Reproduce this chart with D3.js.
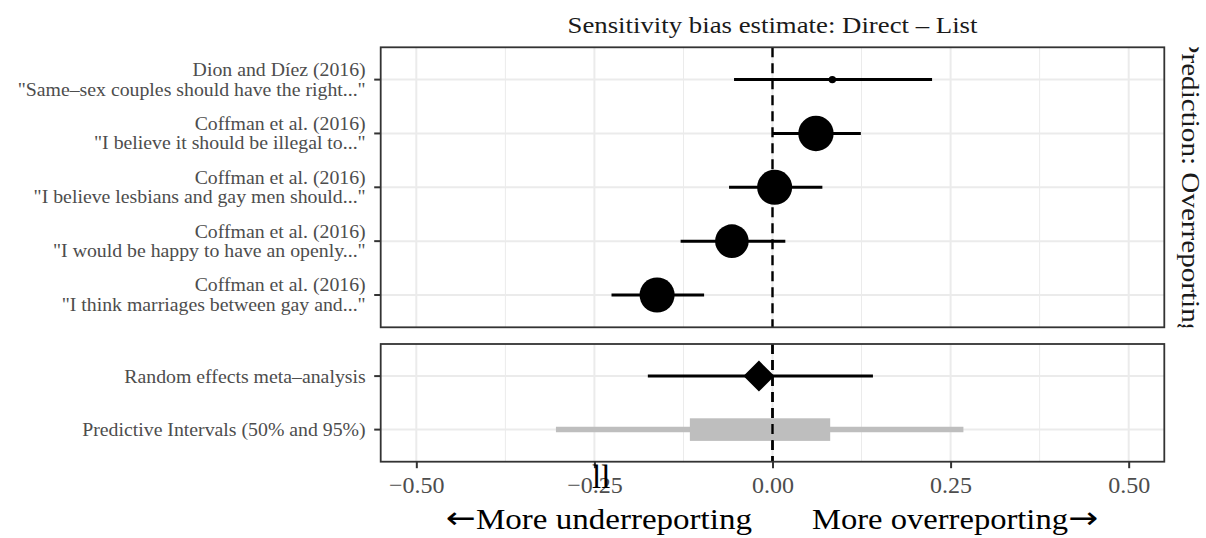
<!DOCTYPE html>
<html>
<head>
<meta charset="utf-8">
<script src="https://cdn.jsdelivr.net/npm/d3@7"></script>
<style>
  body { margin: 0; background: #fff; }
  svg { display: block; }
</style>
</head>
<body>
<div id="chart"></div>
<script>
// values
var studies = ["Dion and Díez (2016)", "Coffman et al. (2016)", "Coffman et al. (2016)",
               "Coffman et al. (2016)", "Coffman et al. (2016)"];
var items = ["\"Same–sex couples should have the right...\"",
             "\"I believe it should be illegal to...\"",
             "\"I believe lesbians and gay men should...\"",
             "\"I would be happy to have an openly...\"",
             "\"I think marriages between gay and...\""];
var estimates = [0.084, 0.061, 0.003, -0.057, -0.162];
var ciLow     = [-0.054, 0.000, -0.061, -0.129, -0.226];
var ciHigh    = [0.224, 0.124, 0.070, 0.018, -0.096];
var weights   = [0.044, 1.0, 0.98, 0.90, 0.98];

var metaLabels = ["Random effects meta–analysis", "Predictive Intervals (50% and 95%)"];
var metaEst = -0.019, metaLow = -0.175, metaHigh = 0.141;
var pi95 = [-0.304, 0.268];
var pi50 = [-0.116, 0.081];

var xTicks = [-0.5, -0.25, 0, 0.25, 0.5];
var xMinor = [-0.375, -0.125, 0.125, 0.375];

var W = 1206, H = 538;
var left = 380.7, right = 1164.3;
var top1 = 47.3, bot1 = 327.3, top2 = 344, bot2 = 461.7;

var svg = d3.select("#chart").append("svg").attr("width", W).attr("height", H);

var x = d3.scaleLinear().domain([-0.55, 0.55]).range([left, right]);
var y1 = d3.scalePoint().domain(d3.range(estimates.length)).range([top1, bot1]).padding(0.6);
var y2 = d3.scalePoint().domain(d3.range(metaLabels.length)).range([top2, bot2]).padding(0.6);
var r = d3.scaleSqrt().domain([0, 1]).range([0, 17.7]);

var grid = "#EBEBEB", ink = "#333333";

function zeroLine(g, t, b) {
  g.append("line").attr("x1", x(0)).attr("x2", x(0)).attr("y1", t).attr("y2", b)
    .attr("stroke", "#000").attr("stroke-width", 2.4).attr("stroke-dasharray", "10,6");
}

function panel(yScale, n, t, b) {
  var g = svg.append("g");
  g.append("rect").attr("x", left).attr("y", t).attr("width", right - left).attr("height", b - t)
    .attr("fill", "#fff");
  g.selectAll("line.minor").data(xMinor).enter().append("line")
    .attr("x1", d => x(d)).attr("x2", d => x(d)).attr("y1", t).attr("y2", b)
    .attr("stroke", grid).attr("stroke-width", 1);
  g.selectAll("line.major").data(xTicks).enter().append("line")
    .attr("x1", d => x(d)).attr("x2", d => x(d)).attr("y1", t).attr("y2", b)
    .attr("stroke", grid).attr("stroke-width", 2);
  g.selectAll("line.hrow").data(d3.range(n)).enter().append("line")
    .attr("x1", left).attr("x2", right).attr("y1", d => yScale(d)).attr("y2", d => yScale(d))
    .attr("stroke", grid).attr("stroke-width", 2);
  zeroLine(g, t, b);
  // y ticks
  g.selectAll("line.yt").data(d3.range(n)).enter().append("line")
    .attr("x1", left - 6.5).attr("x2", left).attr("y1", d => yScale(d)).attr("y2", d => yScale(d))
    .attr("stroke", ink).attr("stroke-width", 2);
  return g;
}

var p1 = panel(y1, estimates.length, top1, bot1);
var p2 = panel(y2, metaLabels.length, top2, bot2);

// study estimates
var rows = d3.range(estimates.length);
p1.selectAll("line.ci").data(rows).enter().append("line")
  .attr("x1", i => x(ciLow[i])).attr("x2", i => x(ciHigh[i]))
  .attr("y1", i => y1(i)).attr("y2", i => y1(i))
  .attr("stroke", "#000").attr("stroke-width", 3);
p1.selectAll("circle").data(rows).enter().append("circle")
  .attr("cx", i => x(estimates[i])).attr("cy", i => y1(i)).attr("r", i => r(weights[i]))
  .attr("fill", "#000");

// predictive intervals
p2.append("line").attr("x1", x(pi95[0])).attr("x2", x(pi95[1]))
  .attr("y1", y2(1)).attr("y2", y2(1)).attr("stroke", "#BEBEBE").attr("stroke-width", 5.5);
p2.append("rect").attr("x", x(pi50[0])).attr("width", x(pi50[1]) - x(pi50[0]))
  .attr("y", y2(1) - 11.3).attr("height", 22.6).attr("fill", "#BEBEBE");
zeroLine(p2, top2, bot2);

// meta-analysis
p2.append("line").attr("x1", x(metaLow)).attr("x2", x(metaHigh))
  .attr("y1", y2(0)).attr("y2", y2(0)).attr("stroke", "#000").attr("stroke-width", 3);
var dm = 15.5;
p2.append("path")
  .attr("d", "M" + x(metaEst) + "," + (y2(0) - dm) + "L" + (x(metaEst) + dm) + "," + y2(0) +
             "L" + x(metaEst) + "," + (y2(0) + dm) + "L" + (x(metaEst) - dm) + "," + y2(0) + "Z")
  .attr("fill", "#000");

// panel borders
[[top1, bot1], [top2, bot2]].forEach(function (p) {
  svg.append("rect").attr("x", left).attr("y", p[0]).attr("width", right - left).attr("height", p[1] - p[0])
    .attr("fill", "none").attr("stroke", ink).attr("stroke-width", 1.8);
});

// y labels (slightly widened serif to match the original face)
var serif = "Liberation Serif", grey = "#4D4D4D";
var lx = left - 15;
var widen = "translate(" + lx + ",0) scale(1.1,1) translate(" + (-lx) + ",0)";
rows.forEach(function (i) {
  [[studies[i], y1(i) - 3.5], [items[i], y1(i) + 16]].forEach(function (ln) {
    svg.append("text").attr("text-anchor", "end").attr("font-family", serif)
      .attr("font-size", 18).attr("fill", grey).attr("transform", widen)
      .attr("x", lx).attr("y", ln[1]).text(ln[0]);
  });
});
metaLabels.forEach(function (d, i) {
  svg.append("text").attr("text-anchor", "end").attr("font-family", serif)
    .attr("font-size", 18).attr("fill", grey).attr("transform", widen)
    .attr("x", lx).attr("y", y2(i) + 6.5).text(d);
});

// x axis
var xAxis = svg.append("g").attr("transform", "translate(0," + bot2 + ")")
  .call(d3.axisBottom(x).tickValues(xTicks).tickSize(6.5).tickPadding(8)
    .tickFormat(d => d3.format(".2f")(d).replace("-", "−")));
xAxis.select(".domain").remove();
xAxis.selectAll(".tick line").attr("stroke", ink).attr("stroke-width", 2);
xAxis.selectAll(".tick text").attr("font-family", serif).attr("font-size", 24)
  .attr("fill", grey).attr("dy", "0.71em");

// titles
svg.append("text").attr("x", x(0)).attr("y", 33).attr("text-anchor", "middle")
  .attr("font-family", serif).attr("font-size", 23.5).attr("fill", "#1a1a1a")
  .attr("textLength", 410).attr("lengthAdjust", "spacingAndGlyphs")
  .text("Sensitivity bias estimate: Direct – List");

svg.append("text").attr("x", 446).attr("y", 528).attr("font-family", "DejaVu Sans").attr("font-size", 30)
  .attr("textLength", 30).attr("lengthAdjust", "spacingAndGlyphs").text("←");
svg.append("text").attr("x", 476).attr("y", 529)
  .attr("font-family", serif).attr("font-size", 29)
  .attr("textLength", 276).attr("lengthAdjust", "spacingAndGlyphs")
  .text("More underreporting");
svg.append("text").attr("x", 812).attr("y", 529).attr("font-family", serif).attr("font-size", 29)
  .attr("textLength", 256).attr("lengthAdjust", "spacingAndGlyphs")
  .text("More overreporting");
svg.append("text").attr("x", 1068).attr("y", 528)
  .attr("font-family", "DejaVu Sans").attr("font-size", 30)
  .attr("textLength", 30).attr("lengthAdjust", "spacingAndGlyphs").text("→");

svg.append("text").attr("x", 592).attr("y", 488).attr("font-family", serif).attr("font-size", 33)
  .attr("fill", "#000").text("ll");

// facet strip (clipped)
svg.append("clipPath").attr("id", "stripclip").append("rect")
  .attr("x", right + 2).attr("y", top1).attr("width", W - right).attr("height", bot1 - top1);
svg.append("g").attr("clip-path", "url(#stripclip)")
  .append("text").attr("transform", "translate(1182," + ((top1 + bot1) / 2) + ") rotate(90)")
  .attr("text-anchor", "middle").attr("font-family", serif).attr("font-size", 25)
  .attr("fill", "#1a1a1a").attr("textLength", 300).attr("lengthAdjust", "spacingAndGlyphs")
  .text("Prediction: Overreporting");
</script>
</body>
</html>
